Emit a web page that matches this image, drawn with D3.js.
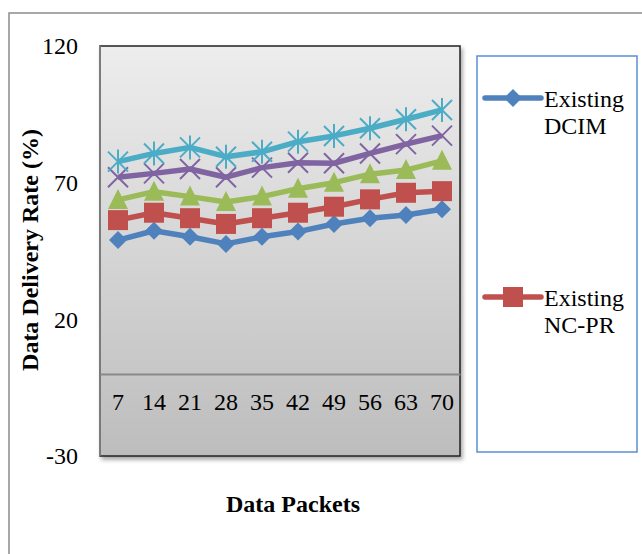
<!DOCTYPE html>
<html>
<head>
<meta charset="utf-8">
<script src="https://cdn.jsdelivr.net/npm/d3@7"></script>
<style>
  html, body { margin: 0; padding: 0; background: #fff; }
  svg { display: block; }
  text { font-family: "Liberation Serif", "Times New Roman", serif; fill: #000; }
</style>
</head>
<body>
<svg id="chart" width="642" height="554"></svg>
<script>
// ---- data ----
const categories = ["7", "14", "21", "28", "35", "42", "49", "56", "63", "70"];
const seriesNames = ["Existing DCIM", "Existing NC-PR", "Existing Method 3", "Existing Method 4", "Proposed"];
const dcim   = [49, 52.4, 50.2, 47.6, 50.2, 52.1, 54.9, 57, 58.2, 60.3];
const ncpr   = [56.3, 59, 57, 54.9, 57, 59, 61.2, 63.9, 66.3, 66.9];
const third  = [63.7, 66.7, 64.9, 62.9, 64.9, 67.8, 70, 73.1, 74.6, 78];
const fourth = [72, 73.4, 75, 72, 75.5, 77.3, 77.1, 80.7, 84.1, 87.2];
const fifth  = [77.7, 80.7, 82.9, 79.5, 81.3, 85, 87.1, 89.9, 93.2, 96.6];
const yTicks = [120, 70, 20, -30];
const colors = ["#4F81BD", "#C0504D", "#9BBB59", "#8064A2", "#4BACC6"];
const markers = ["diamond", "square", "triangle", "x", "asterisk"];

const seriesValues = [dcim, ncpr, third, fourth, fifth];
const series = seriesNames.map((n, i) => ({ name: n, values: seriesValues[i], color: colors[i], marker: markers[i] }));

// ---- layout ----
const svg = d3.select("#chart");
const plot = { left: 100, right: 460, top: 46, bottom: 456 };
const FS = "24px";

const x = d3.scaleBand().domain(categories).range([plot.left, plot.right]);
const y = d3.scaleLinear().domain([-30, 120]).range([plot.bottom, plot.top]);
const cx = c => x(c) + x.bandwidth() / 2;

const defs = svg.append("defs");
const grad = defs.append("linearGradient").attr("id", "bg").attr("x1", 0).attr("y1", 0).attr("x2", 0).attr("y2", 1);
grad.append("stop").attr("offset", "0%").attr("stop-color", "#ededed");
grad.append("stop").attr("offset", "100%").attr("stop-color", "#bdbdbd");
const shadow = defs.append("filter").attr("id", "shadow").attr("x", "-10%").attr("y", "-10%").attr("width", "130%").attr("height", "130%");
shadow.append("feDropShadow").attr("dx", 2).attr("dy", 3).attr("stdDeviation", 2).attr("flood-color", "#000").attr("flood-opacity", 0.35);

// outer chart border
svg.append("rect").attr("x", 9).attr("y", 13).attr("width", 700).attr("height", 600)
  .attr("fill", "none").attr("stroke", "#8c8c8c").attr("stroke-width", 1.5);

// plot area
svg.append("rect")
  .attr("x", plot.left).attr("y", plot.top)
  .attr("width", plot.right - plot.left).attr("height", plot.bottom - plot.top)
  .attr("fill", "url(#bg)").attr("stroke", "#222").attr("stroke-width", 1.5)
  .attr("filter", "url(#shadow)");
svg.append("line").attr("x1", plot.left).attr("x2", plot.left).attr("y1", plot.top).attr("y2", plot.bottom)
  .attr("stroke", "#8a8a8a").attr("stroke-width", 1.5);

// y axis
const yAxis = svg.append("g").attr("transform", `translate(${plot.left},0)`)
  .call(d3.axisLeft(y).tickValues(yTicks).tickSize(0).tickPadding(22).tickFormat(d => String(d)));
yAxis.select(".domain").remove();
yAxis.selectAll("text").style("font-size", FS).style("font-family", "Liberation Serif, serif");

// x axis at y = 0
const xAxis = svg.append("g").attr("transform", `translate(0,${y(0)})`)
  .call(d3.axisBottom(x).tickSize(0).tickPadding(19));
xAxis.select(".domain").attr("stroke", "#8a8a8a").attr("stroke-width", 2);
xAxis.selectAll("text").style("font-size", FS).style("font-family", "Liberation Serif, serif");

// axis titles
svg.append("text").attr("transform", "translate(38,250) rotate(-90)")
  .attr("text-anchor", "middle").style("font-size", FS).style("font-weight", "bold")
  .text("Data Delivery Rate (%)");
svg.append("text").attr("x", 293).attr("y", 512)
  .attr("text-anchor", "middle").style("font-size", FS).style("font-weight", "bold")
  .text("Data Packets");

// marker drawing
function drawMarker(g, type, color, px, py) {
  if (type === "diamond") {
    g.append("path").attr("d", `M${px},${py - 9}L${px + 9},${py}L${px},${py + 9}L${px - 9},${py}Z`).attr("fill", color);
  } else if (type === "square") {
    g.append("rect").attr("x", px - 10).attr("y", py - 10).attr("width", 20).attr("height", 20).attr("fill", color);
  } else if (type === "triangle") {
    g.append("path").attr("d", `M${px},${py - 11}L${px + 10},${py + 9}L${px - 10},${py + 9}Z`).attr("fill", color);
  } else if (type === "x") {
    g.append("path").attr("d", `M${px - 10},${py - 10}L${px + 10},${py + 10}M${px - 10},${py + 10}L${px + 10},${py - 10}`)
      .attr("stroke", color).attr("stroke-width", 2).attr("fill", "none");
  } else if (type === "asterisk") {
    g.append("path").attr("d", `M${px - 10},${py - 10}L${px + 10},${py + 10}M${px - 10},${py + 10}L${px + 10},${py - 10}M${px},${py - 12}L${px},${py + 12}`)
      .attr("stroke", color).attr("stroke-width", 2).attr("fill", "none");
  }
}

// series
const line = d3.line().x((d, i) => cx(categories[i])).y(d => y(d));
series.forEach(s => {
  const g = svg.append("g");
  g.append("path").datum(s.values).attr("d", line)
    .attr("fill", "none").attr("stroke", s.color).attr("stroke-width", 5.5).attr("stroke-linejoin", "round");
  s.values.forEach((v, i) => drawMarker(g, s.marker, s.color, cx(categories[i]), y(v)));
});

// legend (only the entries that fit inside the box are shown, as in the reference)
const lg = { x: 477, y: 56, w: 160, h: 396 };
svg.append("rect").attr("x", lg.x).attr("y", lg.y).attr("width", lg.w).attr("height", lg.h)
  .attr("fill", "#fff").attr("stroke", "#5b8fd6").attr("stroke-width", 1.5);
const legend = svg.append("g");
const step = 199;
series.forEach((s, i) => {
  const ly = 98 + i * step;
  if (ly + 40 > lg.y + lg.h) return;
  const g = legend.append("g");
  g.append("line").attr("x1", 485).attr("x2", 541).attr("y1", ly).attr("y2", ly)
    .attr("stroke", s.color).attr("stroke-width", 5.5).attr("stroke-linecap", "round");
  drawMarker(g, s.marker, s.color, 513, ly);
  const words = s.name.split(" ");
  const t = g.append("text").attr("x", 544).attr("y", ly + 9).style("font-size", FS);
  t.append("tspan").attr("x", 544).text(words[0]);
  t.append("tspan").attr("x", 544).attr("dy", 27).text(words.slice(1).join(" "));
});
</script>
</body>
</html>
